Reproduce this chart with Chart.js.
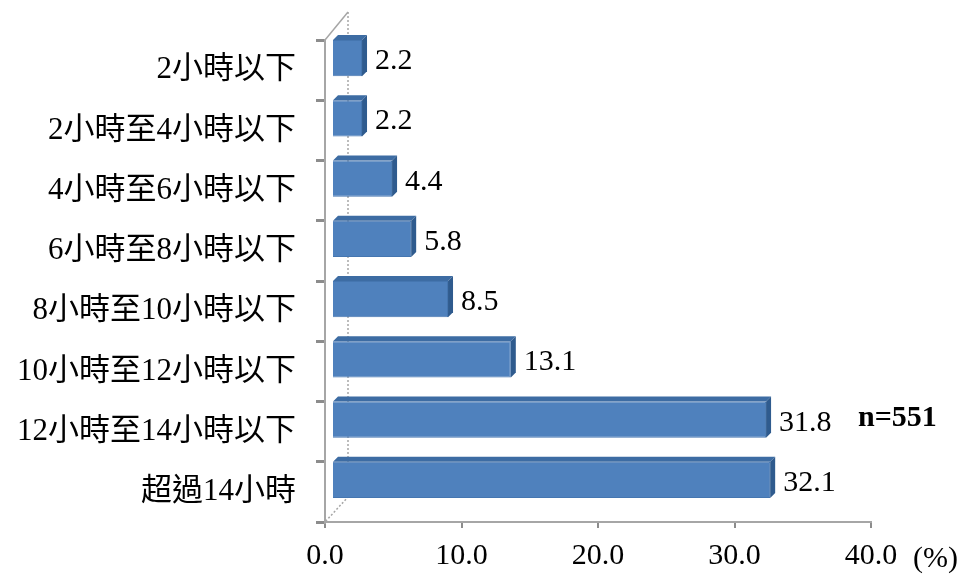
<!DOCTYPE html>
<html>
<head>
<meta charset="utf-8">
<script src="https://cdn.jsdelivr.net/npm/chart.js@4.4.1/dist/chart.umd.min.js"></script>
<style>
  html, body { margin: 0; padding: 0; background: #fff; }
  #wrap { width: 965px; height: 579px; }
</style>
</head>
<body>
<div id="wrap"><canvas id="myChart" width="965" height="579"></canvas></div>
<script>
// data
const categories = [
  "2小時以下",
  "2小時至4小時以下",
  "4小時至6小時以下",
  "6小時至8小時以下",
  "8小時至10小時以下",
  "10小時至12小時以下",
  "12小時至14小時以下",
  "超過14小時"
];
const percents = [2.2, 2.2, 4.4, 5.8, 8.5, 13.1, 31.8, 32.1];
const xTicks = [0, 10, 20, 30, 40];
const sampleNote = "n=551";
const unitNote = "(%)";

const FONT = "'Liberation Serif', 'Times New Roman', 'Noto Sans CJK TC', serif";
const DEPTH = 5;      // size of the fake 3D faces
const SHIFT_X = 7;    // bars sit half way into the depth
const SHIFT_Y = -12;

// draws the back wall, 3D faces, value labels and the notes
const decor = {
  id: "decor",
  beforeDatasetsDraw(chart) {
    const { ctx, chartArea: a } = chart;
    ctx.save();
    ctx.strokeStyle = "#a6a6a6";
    ctx.lineWidth = 1.5;
    ctx.setLineDash([2, 2]);
    ctx.beginPath();
    ctx.moveTo(a.left + 23, a.top - 28);
    ctx.lineTo(a.left + 23, a.bottom - 25);
    ctx.lineTo(a.left, a.bottom);
    ctx.stroke();
    ctx.setLineDash([]);
    ctx.beginPath();
    ctx.moveTo(a.left, a.top);
    ctx.lineTo(a.left + 23, a.top - 28);
    ctx.stroke();
    ctx.restore();
    ctx.save();
    ctx.translate(SHIFT_X, SHIFT_Y);
  },
  afterDatasetsDraw(chart) {
    const { ctx } = chart;
    const meta = chart.getDatasetMeta(0);
    meta.data.forEach((bar, i) => {
      const top = bar.y - bar.height / 2;
      const bottom = bar.y + bar.height / 2;
      // top face
      ctx.fillStyle = "#3d6ca3";
      ctx.beginPath();
      ctx.moveTo(bar.base, top);
      ctx.lineTo(bar.x, top);
      ctx.lineTo(bar.x + DEPTH, top - DEPTH);
      ctx.lineTo(bar.base + DEPTH, top - DEPTH);
      ctx.closePath();
      ctx.fill();
      // side face
      ctx.fillStyle = "#2f5b8e";
      ctx.beginPath();
      ctx.moveTo(bar.x, top);
      ctx.lineTo(bar.x + DEPTH, top - DEPTH);
      ctx.lineTo(bar.x + DEPTH, bottom - DEPTH);
      ctx.lineTo(bar.x, bottom);
      ctx.closePath();
      ctx.fill();
      // value label
      ctx.fillStyle = "#000";
      ctx.font = "30px " + FONT;
      ctx.textAlign = "left";
      ctx.textBaseline = "middle";
      ctx.fillText(percents[i].toFixed(1), bar.x + DEPTH + 8, bar.y + 3);
    });
    ctx.restore();
  },
  afterDraw(chart) {
    const { ctx, chartArea: a } = chart;
    ctx.save();
    ctx.fillStyle = "#000";
    ctx.textBaseline = "middle";
    ctx.textAlign = "left";
    ctx.font = "bold 30px " + FONT;
    ctx.fillText(sampleNote, 858, 418);
    ctx.font = "30px " + FONT;
    ctx.fillText(unitNote, a.right + 42, 559);
    ctx.restore();
  }
};

const ctx = document.getElementById("myChart").getContext("2d");
new Chart(ctx, {
  type: "bar",
  data: {
    labels: categories,
    datasets: [{
      data: percents,
      backgroundColor: "#4f81bd",
      borderColor: "#4576b0",
      borderWidth: 1,
      categoryPercentage: 1,
      barPercentage: 0.6
    }]
  },
  options: {
    indexAxis: "y",
    responsive: false,
    animation: false,
    devicePixelRatio: 1,
    layout: { padding: { top: 40, right: 94, left: 0, bottom: 0 } },
    plugins: {
      legend: { display: false },
      tooltip: { enabled: false }
    },
    scales: {
      x: {
        min: 0,
        max: 40,
        afterBuildTicks(scale) {
          scale.ticks = xTicks.map(v => ({ value: v }));
        },
        afterFit(scale) { scale.height = 57; },
        border: { display: true, color: "#a6a6a6", width: 2, dash: [2, 1] },
        grid: {
          drawOnChartArea: false,
          drawTicks: true,
          tickLength: 6,
          color: "#8c8c8c",
          lineWidth: 2
        },
        ticks: {
          color: "#000",
          font: { family: FONT, size: 30 },
          padding: 10,
          maxRotation: 0,
          callback: v => Number(v).toFixed(1)
        }
      },
      y: {
        afterFit(scale) { scale.width = 325; },
        border: { display: true, color: "#a6a6a6", width: 2 },
        grid: {
          offset: true,
          drawOnChartArea: false,
          drawTicks: true,
          tickLength: 9,
          color: "#8c8c8c",
          lineWidth: 3
        },
        ticks: {
          color: "#000",
          font: { family: FONT, size: 31 },
          padding: 20
        }
      }
    }
  },
  plugins: [decor]
});
</script>
</body>
</html>
